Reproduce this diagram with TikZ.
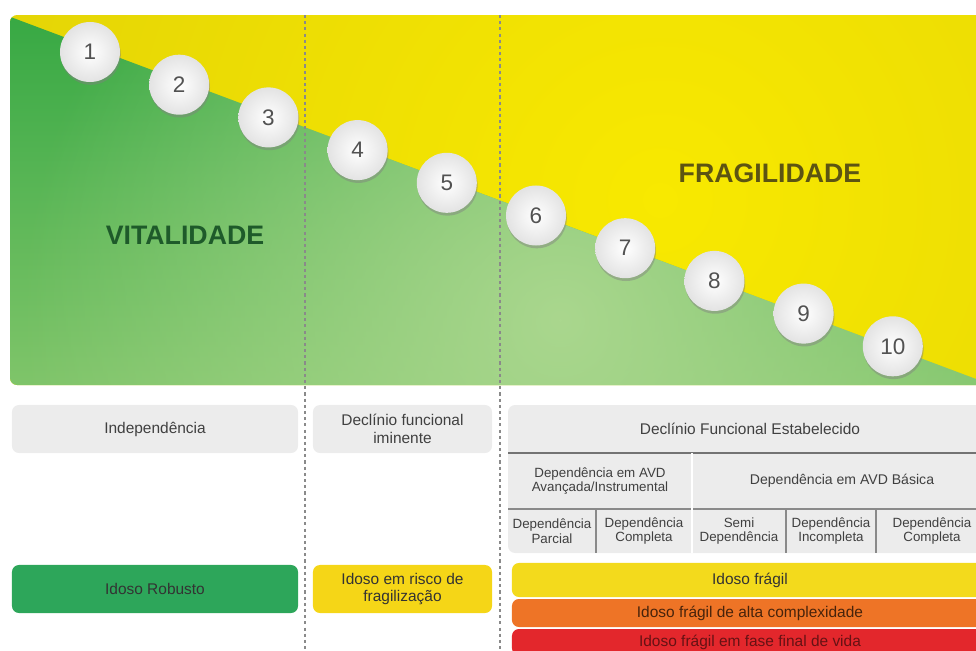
\documentclass[tikz,border=0pt]{standalone}
\usepackage{fontspec}
\setmainfont{Liberation Sans}
\usetikzlibrary{shadows,fadings,positioning}
\definecolor{VitGreen}{HTML}{36A843}
\definecolor{VitMid}{HTML}{80C56A}
\definecolor{VitLight}{HTML}{AAD78E}
\definecolor{FraYellow}{HTML}{F8E900}
\definecolor{FraOlive}{HTML}{D3C30C}
\definecolor{VitInk}{HTML}{1E5A2A}
\definecolor{FraInk}{HTML}{5C5412}
\definecolor{BoxGray}{HTML}{ECECEC}
\definecolor{RuleGray}{HTML}{8A8A8A}
\definecolor{RobGreen}{HTML}{2DA65A}
\definecolor{RiskYellow}{HTML}{F5D617}
\definecolor{FragYellow}{HTML}{F3DA1C}
\definecolor{HighOrange}{HTML}{EE7426}
\definecolor{EndRed}{HTML}{E3272C}
\tikzfading[name=softspot,inner color=transparent!0,outer color=transparent!100]

\begin{document}
\begin{tikzpicture}[
      x=0.025cm,y=-0.025cm,
      stagedot/.style={circle,minimum size=1.5cm,inner sep=0pt,
        inner color=white,outer color=black!11,
        drop shadow={opacity=0.45,shadow xshift=0.02cm,shadow yshift=-0.07cm},
        font=\fontsize{16}{18}\selectfont,text=black!68},
      zone/.style={font=\fontsize{19}{22}\selectfont\bfseries},
      divider/.style={line width=1pt,draw=RuleGray,dash pattern=on 2.2pt off 2.2pt},
      labelbox/.style={rounded corners=5pt,fill=BoxGray,minimum height=1.2cm,
        inner sep=0pt,align=center,font=\fontsize{11}{12.5}\selectfont,text=black!75},
      cell/.style={align=center,inner sep=0pt,text=black!75},
      tablerule/.style={line width=1pt,draw=RuleGray},
      bar/.style={rounded corners=5pt,minimum width=11.9cm,inner sep=0pt,
        font=\fontsize{11}{12.5}\selectfont}
    ]
    \useasboundingbox (0,0) rectangle (976,651);

    \begin{scope}
      \clip[rounded corners=5pt] (10,15) rectangle (1000,385);
      \shade[inner color=FraYellow,outer color=FraOlive] (660,200) circle (1300);
      \begin{scope}
        \clip (0,13) -- (1000,388) -- (1000,400) -- (0,400) -- cycle;
        \shade[top color=VitGreen,middle color=VitGreen!75!VitMid,bottom color=VitMid]
          (0,10) rectangle (1000,390);
        \fill[VitLight,path fading=softspot] (560,320) circle (540);
      \end{scope}
    \end{scope}

    \node[zone,text=VitInk] (vital) at (185,235) {VITALIDADE};
    \node[zone,text=FraInk] (fragil) at (770,173) {FRAGILIDADE};

    \foreach \n in {1,...,10}
      \node[stagedot] (s\n) at ({90+89.2*(\n-1)},{52+32.7*(\n-1)}) {\n};

    \draw[divider] (305,15) -- (305,651);
    \draw[divider] (500,15) -- (500,651);

    \node[labelbox,minimum width=7.15cm] (indep) at (155,429) {Independência};
    \node[labelbox,minimum width=4.475cm] (iminente) at (402.5,429)
      {Declínio funcional\\iminente};

    \fill[BoxGray,rounded corners=5pt] (508,405) rectangle (1000,553);
    \draw[tablerule,draw=black!55] (508,453) -- (1000,453);
    \draw[tablerule] (508,509) -- (1000,509);
    \draw[white,line width=1.5pt] (692,453) -- (692,553);
    \draw[tablerule] (596,509) -- (596,553);
    \draw[tablerule] (786,509) -- (786,553);
    \draw[tablerule] (876,509) -- (876,553);

    \node[cell,font=\fontsize{11}{12.5}\selectfont] (estab) at (750,429)
      {Declínio Funcional Estabelecido};
    \node[cell,font=\fontsize{9.5}{10.5}\selectfont] (avdinst) at (600,481)
      {Dependência em AVD\\Avançada/Instrumental};
    \node[cell,font=\fontsize{10}{11}\selectfont] (avdbas) at (842,481)
      {Dependência em AVD Básica};
    \node[cell,font=\fontsize{9.5}{10.5}\selectfont] (parcial) at (552,531)
      {Dependência\\Parcial};
    \node[cell,font=\fontsize{9.5}{10.5}\selectfont] (completa) at (644,531)
      {Dependência\\Completa};
    \node[cell,font=\fontsize{9.5}{10.5}\selectfont] (semi) at (739,531)
      {Semi\\Dependência};
    \node[cell,font=\fontsize{9.5}{10.5}\selectfont] (incompleta) at (831,531)
      {Dependência\\Incompleta};
    \node[cell,font=\fontsize{9.5}{10.5}\selectfont] (completab) at (932,531)
      {Dependência\\Completa};

    \node[labelbox,minimum width=7.15cm,fill=RobGreen,text=black!80] (robusto)
      at (155,589) {Idoso Robusto};
    \node[labelbox,minimum width=4.475cm,fill=RiskYellow,text=black!80] (risco)
      at (402.5,589) {Idoso em risco de\\fragilização};

    \node[bar,fill=FragYellow,minimum height=0.85cm,text=black!80] (fragilbar)
      at (750,580) {Idoso frágil};
    \node[bar,fill=HighOrange,minimum height=0.7cm,text=black!70!HighOrange] (alta)
      at (750,613) {Idoso frágil de alta complexidade};
    \node[bar,fill=EndRed,minimum height=0.65cm,text=black!55!EndRed] (final)
      at (750,642) {Idoso frágil em fase final de vida};
  \end{tikzpicture}
\end{document}
